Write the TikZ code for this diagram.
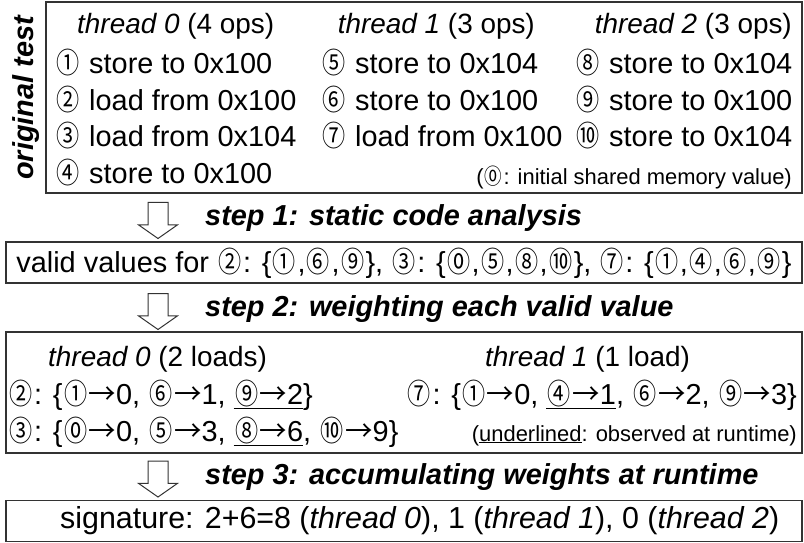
\documentclass[tikz,border=0pt]{standalone}
\usepackage{graphicx}
\usepackage{fontspec}
\setmainfont{Liberation Sans}
\newfontfamily\cjk{Noto Sans CJK JP}
\usetikzlibrary{shapes.arrows}

\newcommand{\cd}[1]{\makebox[0.9em]{\cjk\scalebox{0.8}[1]{#1}}}
\newcommand{\goes}{{\cjk\scalebox{0.95}[1]{→}}}

\tikzset{
	frame/.style={draw=black!80, line width=1.2bp, inner sep=0pt},
	body/.style={font=\fontsize{29}{34}\selectfont, inner sep=0pt},
	head/.style={font=\fontsize{28}{34}\selectfont, inner sep=0pt},
	note/.style={font=\fontsize{22}{26}\selectfont, inner sep=0pt},
	steplabel/.style={font=\fontsize{29}{34}\selectfont\bfseries\itshape, anchor=west, inner sep=0pt},
	downarrow/.style={single arrow, draw=black!80, line width=1bp, rotate=-90, minimum height=36bp, inner xsep=0pt, inner ysep=9.5bp, single arrow head extend=9.5bp, single arrow tip angle=110}
}

\begin{document}
\begin{tikzpicture}[x=1bp, y=-1bp]
	\useasboundingbox (0,0) rectangle (804,543);

	% original test
	\node[frame, minimum width=756bp, minimum height=191bp] (orig) at (424,97.5) {};
	\node[rotate=90, font=\fontsize{29}{34}\selectfont\bfseries\itshape, inner sep=0pt] (title) at (26,98) {original test};

	\node[head, anchor=base west] (h0) at (77,34)  {\textit{thread 0} (4 ops)};
	\node[head, anchor=base east] (h1) at (535,34) {\textit{thread 1} (3 ops)};
	\node[head, anchor=base east] (h2) at (792,34) {\textit{thread 2} (3 ops)};

	\node[body, anchor=base west] (o1) at (55,74)    {\cd{①} store to 0x100};
	\node[body, anchor=base west] (o2) at (55,110.5) {\cd{②} load from 0x100};
	\node[body, anchor=base west] (o3) at (55,147)   {\cd{③} load from 0x104};
	\node[body, anchor=base west] (o4) at (55,183.5) {\cd{④} store to 0x100};

	\node[body, anchor=base west] (o5) at (321,74)    {\cd{⑤} store to 0x104};
	\node[body, anchor=base west] (o6) at (321,110.5) {\cd{⑥} store to 0x100};
	\node[body, anchor=base west] (o7) at (321,147)   {\cd{⑦} load from 0x100};

	\node[body, anchor=base west] (o8) at (575,74)    {\cd{⑧} store to 0x104};
	\node[body, anchor=base west] (o9) at (575,110.5) {\cd{⑨} store to 0x100};
	\node[body, anchor=base west] (o10) at (575,147)  {\cd{⑩} store to 0x104};

	\node[note, anchor=base east] (init) at (792,185) {(\cd{⓪}: initial shared memory value)};

	% step 1
	\node[downarrow] (a1) at (158,217) {};
	\node[steplabel] (s1) at (205,218) {step 1: static code analysis};

	\node[frame, minimum width=796bp, minimum height=41bp] (valid) at (404,262.5) {};
	\node[body] (vals) at (404,263) {valid values for \cd{②}: \{\cd{①},\cd{⑥},\cd{⑨}\}, \cd{③}: \{\cd{⓪},\cd{⑤},\cd{⑧},\cd{⑩}\}, \cd{⑦}: \{\cd{①},\cd{④},\cd{⑥},\cd{⑨}\}};

	% step 2
	\node[downarrow] (a2) at (158,308) {};
	\node[steplabel] (s2) at (205,309) {step 2: weighting each valid value};

	\node[frame, minimum width=796bp, minimum height=121bp] (weights) at (404,392.5) {};
	\node[head, anchor=base west] (w0) at (48,366)  {\textit{thread 0} (2 loads)};
	\node[head, anchor=base west] (w1) at (485,366) {\textit{thread 1} (1 load)};
	\node[body, anchor=base west] (r2) at (8,404)   {\cd{②}: \{\cd{①}\goes0, \cd{⑥}\goes1, \underline{\cd{⑨}\goes2}\}};
	\node[body, anchor=base east] (r7) at (797,404) {\cd{⑦}: \{\cd{①}\goes0, \underline{\cd{④}\goes1}, \cd{⑥}\goes2, \cd{⑨}\goes3\}};
	\node[body, anchor=base west] (r3) at (8,441)   {\cd{③}: \{\cd{⓪}\goes0, \cd{⑤}\goes3, \underline{\cd{⑧}\goes6}, \cd{⑩}\goes9\}};
	\node[note, anchor=base east] (obs) at (797,441) {(\underline{underlined}: observed at runtime)};

	% step 3
	\node[downarrow] (a3) at (158,475.5) {};
	\node[steplabel] (s3) at (205,477) {step 3: accumulating weights at runtime};

	\node[frame, minimum width=796bp, minimum height=41bp] (sign) at (404,521) {};
	\node[body, font=\fontsize{30.5}{34}\selectfont, anchor=west] (sig) at (60,521) {signature: 2+6=8 (\textit{thread 0}), 1 (\textit{thread 1}), 0 (\textit{thread 2})};

\end{tikzpicture}
\end{document}
